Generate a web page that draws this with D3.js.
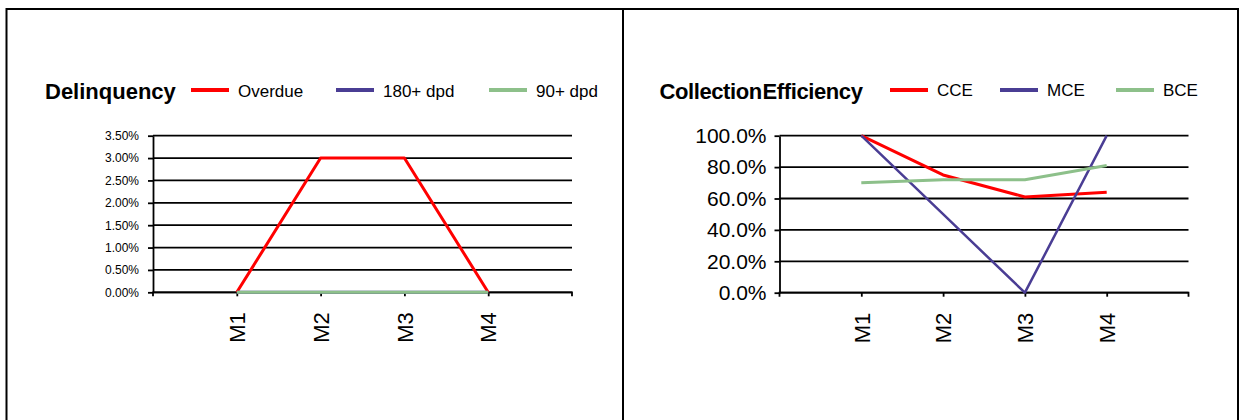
<!DOCTYPE html>
<html>
<head>
<meta charset="utf-8">
<script src="https://cdn.jsdelivr.net/npm/d3@7"></script>
<style>
  body { margin: 0; background: #fff; }
  svg { display: block; font-family: "Liberation Sans", Arial, sans-serif; }
  .grid line { stroke: #000; stroke-width: 1.8; }
  .axis path, .axis line { stroke: #000; stroke-width: 1.8; }
  .axis text { fill: #000; }
</style>
</head>
<body>
<svg width="1240" height="420"></svg>
<script>
// data
const months = ['M1', 'M2', 'M3', 'M4'];

const overdue = [0, 0.03, 0.03, 0];
const dpd180 = [0, 0, 0, 0];
const dpd90 = [0, 0, 0, 0];
const delinqTicks = [0, 0.005, 0.01, 0.015, 0.02, 0.025, 0.03, 0.035];

const cce = [1.0, 0.75, 0.61, 0.64];
const mce = [1.0, 0.5, 0, 1.0];
const bce = [0.70, 0.72, 0.72, 0.81];
const effTicks = [0, 0.2, 0.4, 0.6, 0.8, 1.0];

const delinqNames = ['Overdue', '180+ dpd', '90+ dpd'];
const effNames = ['CCE', 'MCE', 'BCE'];

const colors = ['#ff0000', '#4a3d94', '#8dc08a'];

let svg = d3.select('svg');

// frame round the two panels
svg.append('path')
  .attr('d', 'M6.5,420 V9 H1238 V420 M623,9 V420')
  .attr('fill', 'none')
  .attr('stroke', '#000')
  .attr('stroke-width', 2);

function drawPanel(p) {
  const g = svg.append('g');

  const xScale = d3.scalePoint()
    .domain(months)
    .range([p.left, p.right])
    .padding(1);

  const yScale = d3.scaleLinear()
    .domain([0, p.ticks[p.ticks.length - 1]])
    .range([p.bottom, p.top]);

  // horizontal gridlines
  g.append('g')
    .attr('class', 'grid')
    .selectAll('line')
    .data(p.ticks)
    .enter()
    .append('line')
    .attr('x1', p.left)
    .attr('x2', p.right)
    .attr('y1', d => yScale(d))
    .attr('y2', d => yScale(d));

  // y axis
  g.append('g')
    .attr('class', 'axis')
    .attr('transform', `translate(${p.left}, 0)`)
    .call(d3.axisLeft(yScale)
      .tickValues(p.ticks)
      .tickFormat(d3.format(p.fmt))
      .tickSizeInner(5)
      .tickSizeOuter(0)
      .tickPadding(p.labelPad))
    .selectAll('text')
    .attr('font-size', p.labelSize);

  // x axis, ticks at the edges too
  const xAxis = g.append('g')
    .attr('class', 'axis')
    .attr('transform', `translate(0, ${p.bottom})`)
    .call(d3.axisBottom(xScale).tickSizeInner(4).tickSizeOuter(4).tickPadding(0));

  xAxis.select('.domain').attr('d', `M${p.left},4V0H${p.right}V4`);

  xAxis.selectAll('text')
    .attr('font-size', 22)
    .attr('text-anchor', 'end')
    .attr('transform', 'rotate(-90)')
    .attr('x', -20)
    .attr('y', 0)
    .attr('dy', '0.35em');

  const line = d3.line()
    .x((d, i) => xScale(months[i]))
    .y(d => yScale(d));

  p.series.forEach((s, i) => {
    g.append('path')
      .datum(s)
      .attr('fill', 'none')
      .attr('stroke', colors[i])
      .attr('stroke-width', p.widths[i])
      .attr('stroke-linejoin', 'round')
      .attr('d', line);
  });

  // title
  g.append('text')
    .attr('x', p.titleX)
    .attr('y', 99)
    .attr('font-size', 22)
    .attr('font-weight', 'bold')
    .attr('letter-spacing', p.titleSpacing)
    .attr('word-spacing', p.titleWordSpacing)
    .text(p.title);

  // legend
  const legend = g.selectAll('.legend')
    .data(p.names)
    .enter()
    .append('g')
    .attr('transform', (d, i) => `translate(${p.legendX[i]}, 90)`);

  legend.append('line')
    .attr('x1', 0)
    .attr('x2', 38)
    .attr('stroke', (d, i) => colors[i])
    .attr('stroke-width', 4);

  legend.append('text')
    .attr('x', 47)
    .attr('y', p.legendBaseline)
    .attr('font-size', 17)
    .text(d => d);
}

drawPanel({
  title: 'Delinquency',
  titleX: 45,
  titleSpacing: 0,
  titleWordSpacing: 0,
  names: delinqNames,
  series: [overdue, dpd180, dpd90],
  widths: [3, 3, 3],
  legendX: [191, 336, 489],
  legendBaseline: 7,
  ticks: delinqTicks,
  fmt: '.2%',
  labelSize: 12,
  labelPad: 9,
  left: 153,
  right: 572,
  top: 135.7,
  bottom: 292.3
});

drawPanel({
  title: 'Collection Efficiency',
  titleX: 659.5,
  titleSpacing: -0.4,
  titleWordSpacing: -5,
  names: effNames,
  series: [cce, mce, bce],
  widths: [3, 2.5, 3],
  legendX: [890, 1000, 1116],
  legendBaseline: 6,
  ticks: effTicks,
  fmt: '.1%',
  labelSize: 21,
  labelPad: 8,
  left: 779.5,
  right: 1188.5,
  top: 135.7,
  bottom: 292.7
});
</script>
</body>
</html>
